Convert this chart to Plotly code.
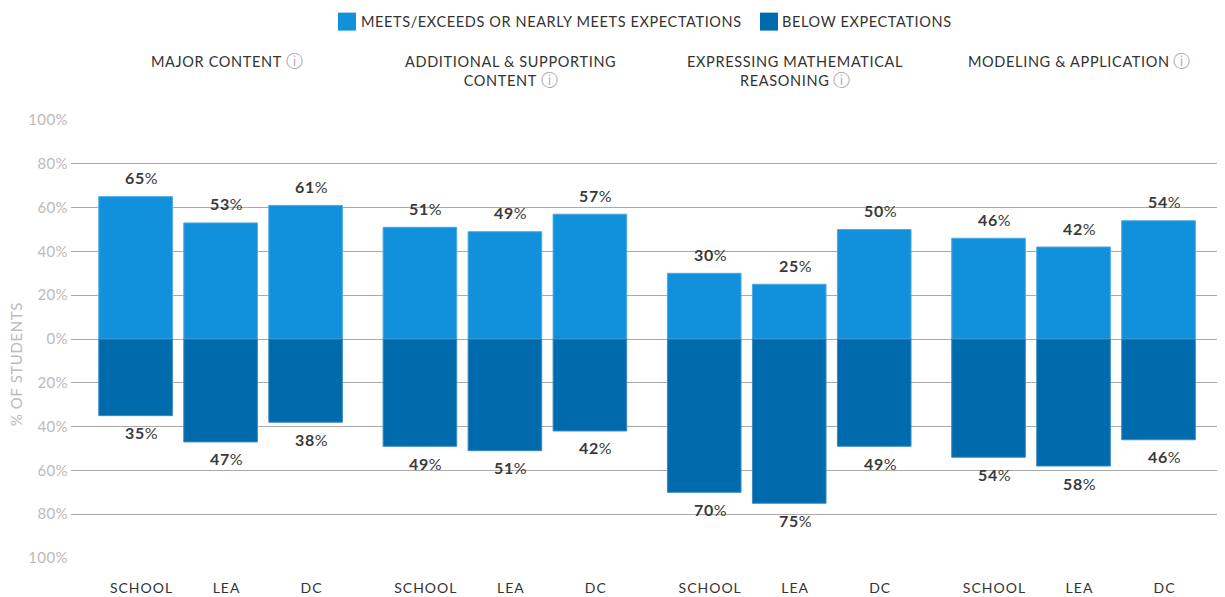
import plotly.graph_objects as go

groups = ["MAJOR CONTENT", "ADDITIONAL &amp; SUPPORTING<br>CONTENT", "EXPRESSING MATHEMATICAL<br>REASONING", "MODELING &amp; APPLICATION"]
categories = ["SCHOOL", "LEA", "DC"]
meets = [65, 53, 61, 51, 49, 57, 30, 25, 50, 46, 42, 54]
below = [35, 47, 38, 49, 51, 42, 70, 75, 49, 54, 58, 46]
tick_vals = [100, 80, 60, 40, 20, 0, -20, -40, -60, -80, -100]
tick_text = ["100%", "80%", "60%", "40%", "20%", "0%", "20%", "40%", "60%", "80%", "100%"]
legend_names = ["MEETS/EXCEEDS OR NEARLY MEETS EXPECTATIONS", "BELOW EXPECTATIONS"]

# the page's body has an 8px margin, so the figure sits 8px in from the window corner
PAGE = 8
W, H = 1225, 597 - PAGE
L, R, T, B = 71, 1225, 119.5, 558
PW, PH = R - L, B - T
FONT = "Lato"
BLUE, DARK = "#1190DC", "#006BAC"
GROUP_STEP = 3.345
LABEL_OFFSET = 0.07


def sp(text, ls):
    return f'<span style="letter-spacing:{ls}px">{text}</span>'


def px(x):
    return (x - L) / PW


def py(y):
    return 1 + (T - y) / PH


xs = [g * GROUP_STEP + c for g in range(len(groups)) for c in range(len(categories))]
labels = categories * len(groups)

fig = go.Figure()
fig.add_bar(x=xs, y=meets, name=legend_names[0], marker=dict(color=BLUE, line=dict(color="#4FA9E3", width=1)))
fig.add_bar(x=xs, y=[-v for v in below], name=legend_names[1], marker=dict(color=DARK, line=dict(color="#3A8BBF", width=1)))

ann = []
for x, m, b in zip(xs, meets, below):
    for val, shift in ((m, 19), (-b, -17)):
        ann.append(dict(x=x, y=val, xshift=6, yshift=shift, xref="x", yref="y", showarrow=False, yanchor="middle",
                        text=sp(f"<b>{abs(val)}</b>%", 0.6), font=dict(family=FONT, size=16, color="#3a3a3a")))
for i, g in enumerate(groups):
    parts = g.split("<br>")
    title = "<br>".join(sp(p, 0.65) for p in parts)
    ann.append(dict(x=(i * GROUP_STEP + 1) + LABEL_OFFSET, y=py(50.5), yshift=3 if len(parts) == 1 else 0,
                    xref="x", yref="paper", showarrow=False,
                    yanchor="top", align="center",
                    text=title + ' <span style="color:#aaaaaa;font-size:17px">ⓘ</span>',
                    font=dict(family=FONT, size=14.5, color="#333333")))
legend_x = [(338, 359), (760, 780)]
shapes = []
for (sx, tx), name, col in zip(legend_x, legend_names, (BLUE, DARK)):
    shapes.append(dict(type="rect", xref="paper", yref="paper",
                       x0=px(sx), x1=px(sx + 18), y0=py(30), y1=py(12),
                       fillcolor=col, line=dict(width=0)))
    ann.append(dict(x=px(tx), y=py(21), xref="paper", yref="paper", yanchor="middle",
                    xanchor="left", showarrow=False, text=sp(name, 0.62),
                    font=dict(family=FONT, size=14.5, color="#333333")))
ann.append(dict(x=px(16), y=py(364), xref="paper", yref="paper", textangle=-90, showarrow=False,
                xanchor="center", yanchor="middle", text=sp("% OF STUDENTS", 0.6),
                font=dict(family=FONT, size=15, color="#bbbbbb")))

fig.update_layout(
    width=W, height=H, barmode="relative", bargap=0.134, showlegend=False,
    plot_bgcolor="white", paper_bgcolor="white",
    margin=dict(l=L - PAGE, r=W + PAGE - R, t=T - PAGE, b=H + PAGE - B, autoexpand=False),
    annotations=ann, shapes=shapes,
    xaxis=dict(range=[-0.76, 12.817], tickvals=[x + LABEL_OFFSET for x in xs], ticktext=[sp(l, 1.0) for l in labels],
               showgrid=False, zeroline=False, ticks="", ticklabelstandoff=20,
               tickfont=dict(family=FONT, size=14, color="#333333")),
    yaxis=dict(range=[-100, 100], tickvals=tick_vals, ticktext=[sp(t, 0.4) for t in tick_text], showgrid=True,
               gridcolor="#aaaaaa", gridwidth=1, zeroline=False, ticks="", ticklabelstandoff=2,
               tickfont=dict(family=FONT, size=15, color="#bbbbbb")),
)
fig.write_html("out.html")
